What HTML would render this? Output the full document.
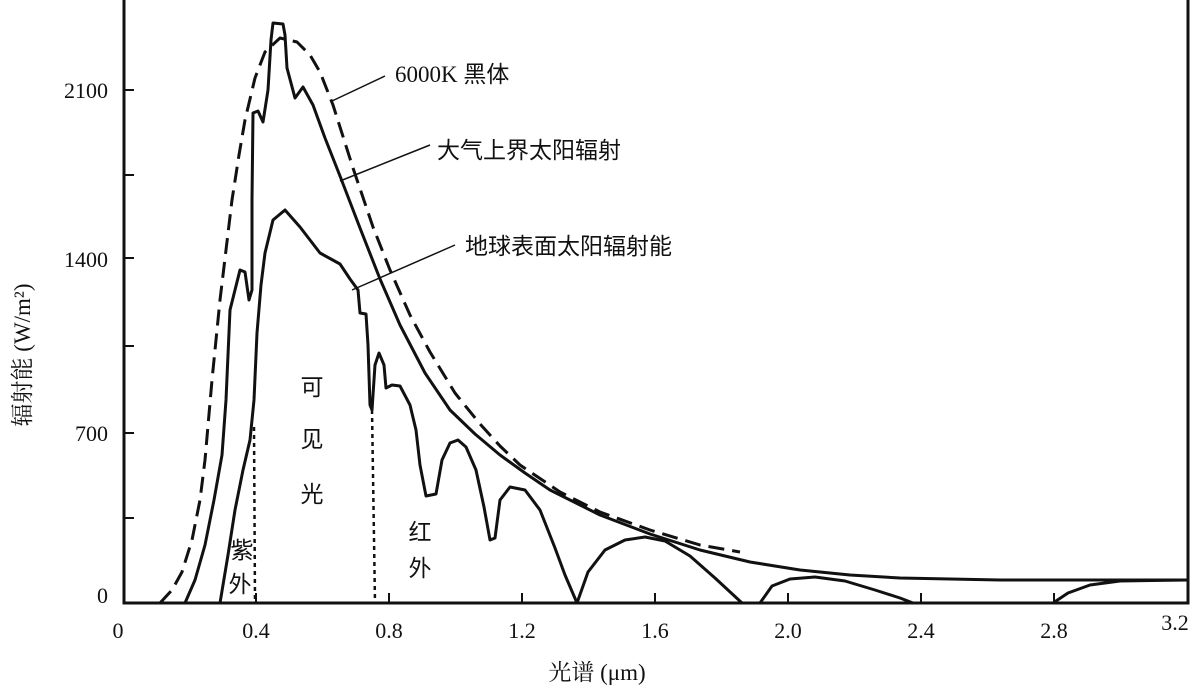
<!DOCTYPE html>
<html><head><meta charset="utf-8"><style>
body{margin:0;background:#fff}
svg text{font-family:"Liberation Serif","Noto Serif CJK SC",serif;fill:#111}
.c{font-family:"Liberation Sans","Noto Sans CJK SC",sans-serif !important}
</style></head><body>
<svg width="1195" height="691" viewBox="0 0 1195 691">
<g stroke="#111" fill="none" stroke-width="3">
<polyline points="124,0 124,603 1188,603 1188,0"/>
</g>
<g stroke="#111" stroke-width="2">
<line x1="124" y1="90" x2="134" y2="90"/><line x1="124" y1="175" x2="134" y2="175"/>
<line x1="124" y1="258" x2="134" y2="258"/><line x1="124" y1="346" x2="134" y2="346"/>
<line x1="124" y1="433" x2="134" y2="433"/><line x1="124" y1="518" x2="134" y2="518"/>
<line x1="256" y1="603" x2="256" y2="593"/><line x1="389" y1="603" x2="389" y2="593"/>
<line x1="522" y1="603" x2="522" y2="593"/><line x1="655" y1="603" x2="655" y2="593"/>
<line x1="788" y1="603" x2="788" y2="593"/><line x1="921" y1="603" x2="921" y2="593"/>
<line x1="1054" y1="603" x2="1054" y2="593"/>
</g>
<g font-size="22" text-anchor="end">
<text x="108" y="98">2100</text><text x="108" y="267">1400</text><text x="108" y="441">700</text><text x="108" y="603">0</text>
</g>
<g font-size="22" text-anchor="middle">
<text x="118" y="638">0</text><text x="256" y="638">0.4</text><text x="389" y="638">0.8</text><text x="522" y="638">1.2</text>
<text x="655" y="638">1.6</text><text x="788" y="638">2.0</text><text x="921" y="638">2.4</text><text x="1054" y="638">2.8</text><text x="1175" y="630">3.2</text>
</g>
<text x="597" y="680" font-size="23" text-anchor="middle">光谱 (μm)</text>
<text transform="translate(30,355) rotate(-90)" font-size="23" text-anchor="middle">辐射能 (W/m²)</text>
<g fill="none" stroke="#111" stroke-width="3" stroke-linejoin="round">
<polyline stroke-dasharray="16,8" points="160,603 172,590 182,572 192,540 200,500 205,460 212,380 220,300 226,250 232,200 239,155 245,120 255,78 265,52 280,38 297,42 310,55 320,72 333,105 353,168 373,227 390,270 410,315 430,352 455,393 480,424 500,446 520,465 560,492 600,512 650,530 700,545 740,552"/>
<polyline points="185,603 195,580 205,545 214,500 222,455 226,400 230,310 235,290 240,270 245,272 249,300 252,290 252,200 253,113 258,111 263,122 268,90 271,40 273,23 283,24 285,35 287,68 295,98 303,87 313,105 325,138 340,176 360,228 380,279 400,325 425,373 450,410 475,434 500,455 525,473 550,490 600,515 650,534 700,550 750,562 800,570 850,575 900,578 1000,580 1188,580"/>
<polyline points="220,603 228,555 235,510 243,470 250,440 254,400 257,333 261,285 265,253 273,220 285,210 300,227 320,253 340,264 350,279 358,290 360,313 366,314 368,345 370,405 372,410 375,365 379,353 384,365 386,388 392,385 400,386 410,405 416,430 420,465 426,496 436,494 442,460 450,443 458,440 466,447 476,470 484,507 490,540 495,538 500,500 510,487 525,490 540,510 555,548 565,575 577,603"/>
<polyline points="577,603 588,572 605,550 625,540 645,537 665,541 690,556 715,578 742,603"/>
<polyline points="760,603 772,586 790,579 815,577 845,581 875,590 900,598 913,603"/>
<polyline points="1053,603 1068,593 1090,585 1120,581 1188,580"/>
</g>
<g stroke="#111" stroke-width="2.5" stroke-dasharray="4,4">
<line x1="254" y1="427" x2="255" y2="603"/><line x1="372" y1="410" x2="375" y2="603"/>
</g>
<g stroke="#111" stroke-width="1.5">
<line x1="332" y1="101" x2="385" y2="76"/><line x1="340" y1="181" x2="430" y2="145"/><line x1="352" y1="290" x2="455" y2="245"/>
</g>
<g font-size="23">
<text x="395" y="82">6000K <tspan class="c">黑体</tspan></text>
<text x="437" y="158" class="c">大气上界太阳辐射</text>
<text x="465" y="254" class="c">地球表面太阳辐射能</text>
</g>
<g font-size="23" class="c" text-anchor="middle">
<text x="312" y="395" class="c">可</text><text x="312" y="447" class="c">见</text><text x="312" y="502" class="c">光</text>
<text x="242" y="558" class="c">紫</text><text x="240" y="592" class="c">外</text>
<text x="420" y="540" class="c">红</text><text x="420" y="576" class="c">外</text>
</g>
</svg>
</body></html>
